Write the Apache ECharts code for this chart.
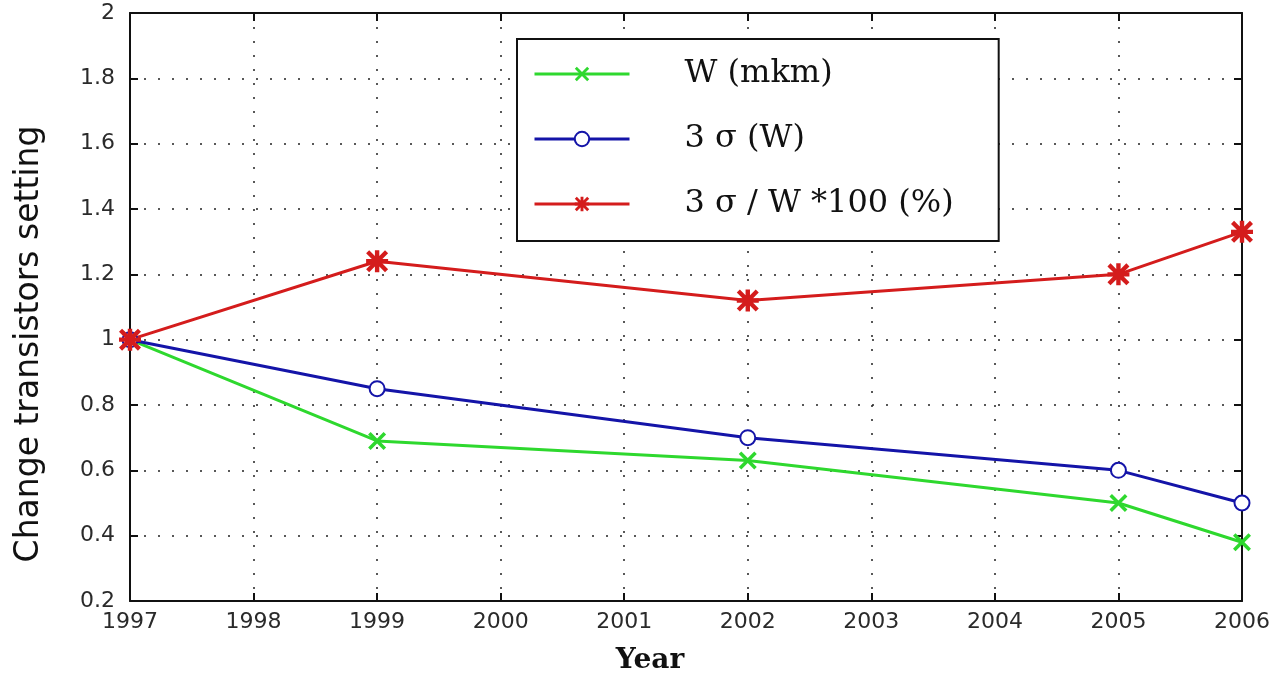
<!DOCTYPE html>
<html>
<head>
<meta charset="utf-8">
<script src="https://cdn.jsdelivr.net/npm/echarts@6/dist/echarts.min.js"></script>
<style>
html, body { margin: 0; padding: 0; background: #fff; }
#chart { width: 1278px; height: 680px; }
</style>
</head>
<body>
<div id="chart"></div>
<script>
// data
let years = [1997, 1999, 2002, 2005, 2006];
let wValues = [1.0, 0.69, 0.63, 0.50, 0.38];
let sigmaValues = [1.0, 0.85, 0.70, 0.60, 0.50];
let ratioValues = [1.0, 1.24, 1.12, 1.20, 1.33];
let seriesNames = ['W (mkm)', '3 σ (W)', '3 σ / W *100 (%)'];

let color = ['#2ed82e', '#1414a8', '#d41c1c'];

// marker shapes (x cross and asterisk)
let crossPath = 'path://M0,1.4 L1.4,0 L5,3.6 L8.6,0 L10,1.4 L6.4,5 L10,8.6 L8.6,10 L5,6.4 L1.4,10 L0,8.6 L3.6,5 Z';
let starPath = 'path://M4,0 L6,0 L6,10 L4,10 Z M0,4 L10,4 L10,6 L0,6 Z ' +
    'M0,1.4 L1.4,0 L5,3.6 L8.6,0 L10,1.4 L6.4,5 L10,8.6 L8.6,10 L5,6.4 L1.4,10 L0,8.6 L3.6,5 Z';

let pairs = (vals) => years.map((y, i) => [y, vals[i]]);

let gridLine = {
    show: true,
    lineStyle: { color: '#222', width: 1.5, type: [2, 12] }
};
let axisLabelStyle = {
    fontFamily: 'DejaVu Sans',
    fontSize: 22,
    color: '#2a2a2a'
};

let option = {
    animation: false,
    backgroundColor: '#fff',
    grid: { left: 130, right: 36, top: 13, bottom: 77 },
    legend: {
        orient: 'vertical',
        left: 517,
        top: 39,
        data: seriesNames,
        padding: [17, 45, 19, 16],
        itemGap: 29,
        itemWidth: 95,
        itemHeight: 18,
        borderColor: '#111',
        borderWidth: 2,
        backgroundColor: '#fff',
        lineStyle: { width: 3 },
        textStyle: {
            fontFamily: 'DejaVu Serif',
            fontSize: 32,
            lineHeight: 36,
            color: '#111',
            padding: [0, 0, 0, 50]
        }
    },
    xAxis: [
        {
            type: 'value',
            min: 1997,
            max: 2006,
            interval: 1,
            name: 'Year',
            nameLocation: 'middle',
            nameGap: 46,
            nameTextStyle: {
                fontFamily: 'DejaVu Serif',
                fontWeight: 'bold',
                fontSize: 28,
                color: '#111',
                padding: [0, 72, 0, 0]
            },
            axisLine: { lineStyle: { color: '#111', width: 2 } },
            axisTick: { inside: true, length: 8, lineStyle: { color: '#111', width: 2 } },
            axisLabel: Object.assign({ margin: 10, formatter: (v) => String(v) }, axisLabelStyle),
            splitLine: gridLine
        },
        {
            type: 'value',
            position: 'top',
            min: 1997,
            max: 2006,
            interval: 1,
            axisLine: { lineStyle: { color: '#111', width: 2 } },
            axisTick: { inside: true, length: 8, lineStyle: { color: '#111', width: 2 } },
            axisLabel: { show: false },
            splitLine: { show: false }
        }
    ],
    yAxis: [
        {
            type: 'value',
            min: 0.2,
            max: 2,
            interval: 0.2,
            name: 'Change transistors setting',
            nameLocation: 'middle',
            nameGap: 84,
            nameTextStyle: {
                fontFamily: 'DejaVu Sans',
                fontSize: 33,
                color: '#111',
                padding: [0, 74, 0, 0]
            },
            axisLine: { show: true, lineStyle: { color: '#111', width: 2 } },
            axisTick: { show: true, inside: true, length: 8, lineStyle: { color: '#111', width: 2 } },
            axisLabel: Object.assign({ margin: 15, formatter: (v) => String(+v.toFixed(1)) }, axisLabelStyle),
            splitLine: gridLine
        },
        {
            type: 'value',
            position: 'right',
            min: 0.2,
            max: 2,
            interval: 0.2,
            axisLine: { show: true, lineStyle: { color: '#111', width: 2 } },
            axisTick: { show: true, inside: true, length: 8, lineStyle: { color: '#111', width: 2 } },
            axisLabel: { show: false },
            splitLine: { show: false }
        }
    ],
    series: [
        {
            name: seriesNames[0],
            type: 'line',
            data: pairs(wValues),
            symbol: crossPath,
            symbolSize: 18,
            lineStyle: { color: color[0], width: 3 },
            itemStyle: { color: color[0] },
            z: 3
        },
        {
            name: seriesNames[1],
            type: 'line',
            data: pairs(sigmaValues),
            symbol: 'emptyCircle',
            symbolSize: 15,
            lineStyle: { color: color[1], width: 3 },
            itemStyle: { color: color[1], borderWidth: 3 },
            z: 3
        },
        {
            name: seriesNames[2],
            type: 'line',
            data: pairs(ratioValues),
            symbol: starPath,
            symbolSize: 22,
            lineStyle: { color: color[2], width: 3 },
            itemStyle: { color: color[2] },
            z: 3
        }
    ]
};

let chart = echarts.init(document.getElementById('chart'));
chart.setOption(option);
</script>
</body>
</html>
